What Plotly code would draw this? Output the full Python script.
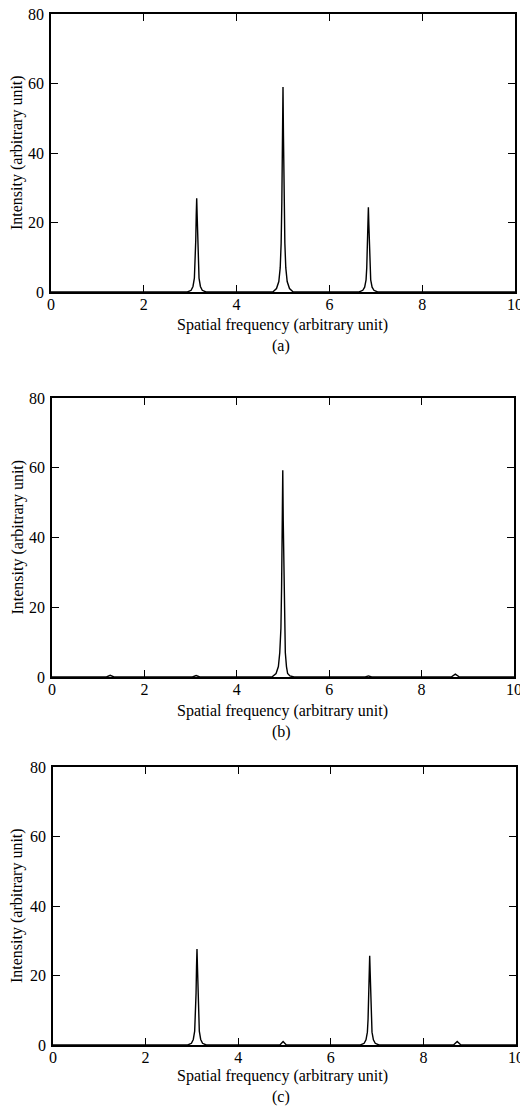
import plotly.graph_objects as go
from plotly.subplots import make_subplots

# (a) three peaks
xa = [0, 2.94, 3.02, 3.06, 3.09, 3.105, 3.12, 3.13, 3.14, 3.15, 3.16, 3.175, 3.19, 3.22, 3.26, 3.34,
      4.78, 4.86, 4.91, 4.94, 4.96, 4.975, 4.99, 5.0, 5.01, 5.025, 5.04, 5.06, 5.09, 5.14, 5.22,
      6.64, 6.72, 6.76, 6.79, 6.805, 6.82, 6.83, 6.84, 6.85, 6.86, 6.875, 6.89, 6.92, 6.96, 7.04, 10]
ya = [0, 0, 0.5, 1.6, 4, 8, 15, 22, 27, 22, 15, 8, 4, 1.6, 0.5, 0,
      0, 1.0, 3, 7, 14, 26, 45, 59, 45, 26, 14, 7, 3, 1.0, 0,
      0, 0.5, 1.4, 3.5, 7, 13, 19.5, 24.4, 19.5, 13, 7, 3.5, 1.4, 0.5, 0, 0]

# (b) central peak only, faint residue elsewhere
xb = [0, 1.18, 1.26, 1.34, 3.04, 3.12, 3.2,
      4.76, 4.85, 4.9, 4.93, 4.955, 4.97, 4.985, 4.995, 5.005, 5.02, 5.035, 5.05, 5.075, 5.1, 5.15, 5.24,
      6.78, 6.85, 6.92, 8.64, 8.73, 8.82, 10]
yb = [0, 0, 0.5, 0, 0, 0.4, 0,
      0, 1.0, 3, 7, 14, 26, 45, 59.3, 45, 26, 14, 7, 3, 1.0, 0.3, 0,
      0, 0.3, 0, 0, 0.8, 0, 0]

# (c) two side peaks, small residue at 5 and 8.75
xc = [0, 2.91, 2.99, 3.03, 3.06, 3.075, 3.09, 3.1, 3.11, 3.12, 3.13, 3.145, 3.16, 3.19, 3.23, 3.31,
      4.9, 4.97, 5.04,
      6.64, 6.72, 6.76, 6.79, 6.805, 6.82, 6.83, 6.84, 6.85, 6.86, 6.875, 6.89, 6.92, 6.96, 7.04,
      8.65, 8.73, 8.81, 10]
yc = [0, 0, 0.5, 1.6, 4, 8, 15, 22.5, 27.6, 22.5, 15, 8, 4, 1.6, 0.5, 0,
      0, 1.0, 0,
      0, 0.5, 1.5, 3.7, 7.5, 14, 21, 25.7, 21, 14, 7.5, 3.7, 1.5, 0.5, 0,
      0, 1.0, 0, 0]

panels = [(xa, ya, "(a)"), (xb, yb, "(b)"), (xc, yc, "(c)")]
xticks = [0, 2, 4, 6, 8, 10]
yticks = [0, 20, 40, 60, 80]

W, H = 520, 1112
# pixel boxes of each plot: left, right, top, bottom
boxes = [(51, 515, 14, 292), (52, 514, 398, 677), (53, 516, 767, 1045)]
xtitle_y = [325, 711, 1076]
label_y = [346, 732, 1097]

font = "Liberation Serif"
fig = make_subplots(rows=3, cols=1)
for i, (x, y, lab) in enumerate(panels):
    fig.add_trace(go.Scatter(x=x, y=y, mode="lines", line=dict(color="black", width=1.4),
                             showlegend=False), row=i + 1, col=1)
    l, r, t, b = boxes[i]
    ax = dict(showline=True, linecolor="black", linewidth=1.5, mirror="ticks",
              ticks="inside", ticklen=7, tickwidth=1.2, tickcolor="black",
              showgrid=False, zeroline=False, automargin=False, ticklabeloverflow="allow",
              tickfont=dict(family=font, size=16, color="black"))
    fig.update_xaxes(ax, range=[0, 10], tickvals=xticks, ticklabelstandoff=-3,
                     domain=[l / W, r / W], row=i + 1, col=1)
    fig.update_yaxes(ax, range=[0, 80], tickvals=yticks, ticklabelstandoff=2,
                     domain=[1 - b / H, 1 - t / H], row=i + 1, col=1)
    fig.add_annotation(text="Spatial frequency (arbitrary unit)", xref="paper", yref="paper",
                       x=282 / W, y=1 - xtitle_y[i] / H, showarrow=False,
                       xanchor="center", yanchor="middle",
                       font=dict(family=font, size=16, color="black"))
    fig.add_annotation(text=lab, xref="paper", yref="paper",
                       x=281 / W, y=1 - label_y[i] / H, showarrow=False,
                       xanchor="center", yanchor="middle",
                       font=dict(family=font, size=16, color="black"))
    fig.add_annotation(text="Intensity (arbitrary unit)", xref="paper", yref="paper",
                       x=17 / W, y=1 - (t + b) / 2 / H, textangle=-90, showarrow=False,
                       xanchor="center", yanchor="middle",
                       font=dict(family=font, size=16, color="black"))

fig.update_layout(width=W, height=H, margin=dict(l=0, r=0, t=0, b=0),
                  paper_bgcolor="white", plot_bgcolor="white")
# drop the default body margin so the figure sits at the window corner
fig.write_html("out.html", config={"displayModeBar": False},
               post_script="document.body.style.margin='0';")
